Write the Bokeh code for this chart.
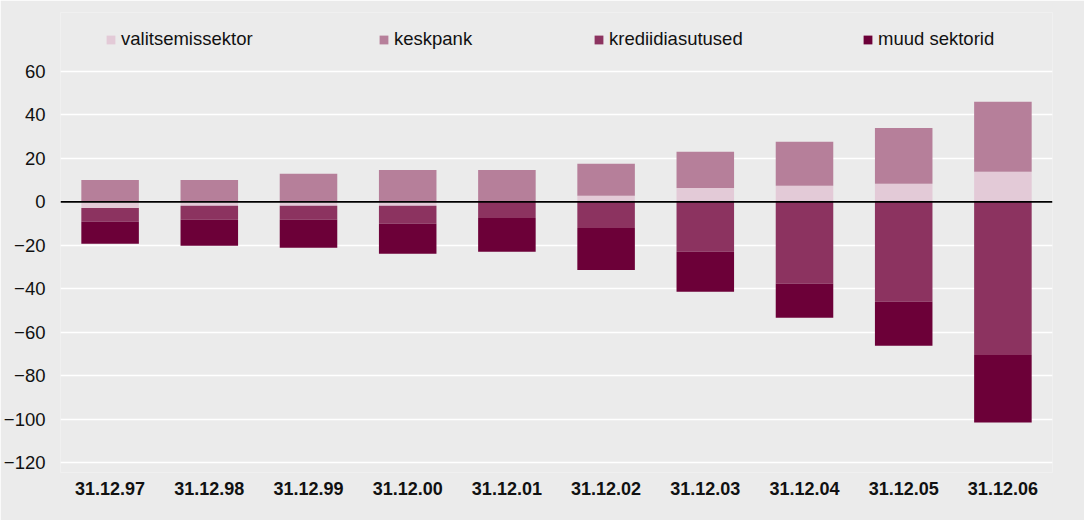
import numpy as np
from bokeh.plotting import figure
from bokeh.models import (ColumnDataSource, FactorRange, Range1d, FixedTicker,
                          Span, Legend, LegendItem)
from bokeh.embed import file_html
from bokeh.resources import INLINE

categories = ["31.12.97", "31.12.98", "31.12.99", "31.12.00", "31.12.01",
              "31.12.02", "31.12.03", "31.12.04", "31.12.05", "31.12.06"]
valitsemissektor = [-2.8, -1.8, -1.8, -1.8, 0.0, 2.8, 6.4, 7.4, 8.3, 13.8]
keskpank = [10.1, 10.1, 12.9, 14.7, 14.7, 14.7, 16.6, 20.2, 25.7, 32.2]
krediidiasutused = [-6.4, -6.4, -6.4, -8.3, -7.4, -12.0, -23.0, -37.7, -46.0, -70.4]
muud_sektorid = [-10.1, -12.0, -12.9, -13.8, -15.6, -19.3, -18.4, -15.6, -20.2, -31.1]
series_names = ["valitsemissektor", "keskpank", "krediidiasutused", "muud sektorid"]
colors = ["#e3cad7", "#b67f9a", "#8c3360", "#6c0038"]
y_ticks = [-120, -100, -80, -60, -40, -20, 0, 20, 40, 60]

v = np.array(valitsemissektor)
k = np.array(keskpank)
kr = np.array(krediidiasutused)
mu = np.array(muud_sektorid)

vs_bot, vs_top = np.minimum(0, v), np.maximum(0, v)
kp_bot, kp_top = np.maximum(0, v), np.maximum(0, v) + k
kr_top, kr_bot = np.minimum(0, v), np.minimum(0, v) + kr
mu_top, mu_bot = kr_bot, kr_bot + mu

src = ColumnDataSource(dict(x=categories, vs_bot=vs_bot, vs_top=vs_top,
                            kp_bot=kp_bot, kp_top=kp_top, kr_bot=kr_bot, kr_top=kr_top,
                            mu_bot=mu_bot, mu_top=mu_top))

BG = "#ebebeb"
FONT = "Liberation Sans"

p = figure(width=1084, height=520, output_backend="svg", toolbar_location=None,
           x_range=FactorRange(*categories), y_range=Range1d(-124.5, 87.1),
           min_border_left=56, min_border_right=32, min_border_top=12, min_border_bottom=48)
p.background_fill_color = BG
p.border_fill_color = BG
p.outline_line_color = None

w = 0.58
r_vs = p.vbar(x="x", bottom="vs_bot", top="vs_top", width=w, source=src, fill_color=colors[0], line_color=None)
r_kp = p.vbar(x="x", bottom="kp_bot", top="kp_top", width=w, source=src, fill_color=colors[1], line_color=None)
r_kr = p.vbar(x="x", bottom="kr_bot", top="kr_top", width=w, source=src, fill_color=colors[2], line_color=None)
r_mu = p.vbar(x="x", bottom="mu_bot", top="mu_top", width=w, source=src, fill_color=colors[3], line_color=None)

p.add_layout(Span(location=0, dimension="width", line_color="black", line_width=1.8))

p.xgrid.grid_line_color = None
p.ygrid.grid_line_color = "white"
p.ygrid.grid_line_width = 1.7
p.yaxis.ticker = FixedTicker(ticks=y_ticks)

for ax in (p.xaxis, p.yaxis):
    ax.axis_line_color = None
    ax.major_tick_line_color = None
    ax.minor_tick_line_color = None
    ax.major_tick_out = 0
    ax.major_tick_in = 0
    ax.major_label_text_font = FONT
    ax.major_label_text_color = "#111111"

p.yaxis.major_label_text_font_size = "18.5px"
p.xaxis.major_label_text_font_size = "18px"
p.yaxis.major_label_standoff = 15
p.xaxis.major_label_standoff = 9
p.xaxis.major_label_text_font_style = "bold"

renderers = [r_vs, r_kp, r_kr, r_mu]
xs = [45, 318, 533, 802]
for name, rend, xpos in zip(series_names, renderers, xs):
    lg = Legend(items=[LegendItem(label=name, renderers=[rend])], location=(xpos, 422),
                orientation="horizontal", background_fill_alpha=0, border_line_color=None,
                padding=0, margin=0, glyph_width=11, glyph_height=11, label_standoff=5,
                label_text_font=FONT, label_text_font_size="18.5px", label_text_color="#111111")
    p.add_layout(lg)

open("out.html", "w").write(file_html(p, INLINE))
